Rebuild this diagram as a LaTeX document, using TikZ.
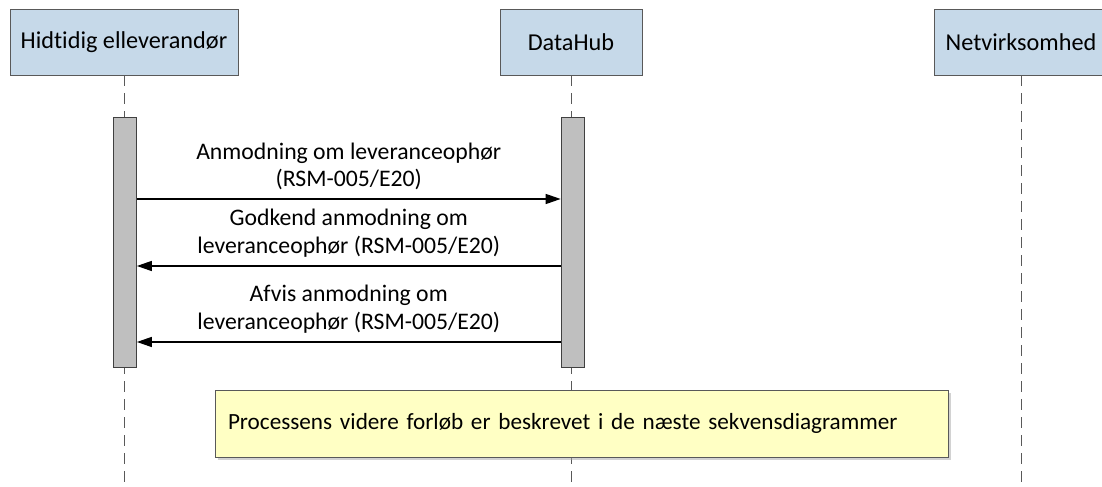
\documentclass[tikz,border=0pt]{standalone}
\usepackage{fontspec}
\setmainfont{Carlito}[Ligatures=NoCommon]
\usepackage{xcolor}
\usetikzlibrary{arrows.meta,shadows}

\definecolor{actorblue}{HTML}{C6D9E9}
\definecolor{linegray}{HTML}{595959}
\definecolor{bargray}{HTML}{BFBFBF}
\definecolor{noteyellow}{HTML}{FFFFC4}

\begin{document}
\begin{tikzpicture}
 	\tikzstyle{every node}+=[font=\fontsize{13.5}{15.6}\selectfont]
 	\tikzstyle{actor}=[draw=linegray, fill=actorblue, minimum height=1.32cm, inner sep=0pt, font=\fontsize{13.8}{16}\selectfont]
 	\tikzstyle{life}=[linegray, dash pattern=on 0.22cm off 0.14cm]
 	\tikzstyle{bar}=[draw=black!75, fill=bargray, minimum width=0.46cm, minimum height=5cm, inner sep=0pt]
 	\tikzstyle{msg}=[black, thick, -{Triangle[length=0.3cm, width=0.2cm]}]
 	\useasboundingbox (0,0) rectangle (22.04,-9.74);
 	% actors
 	\node [actor, minimum width=4.56cm] (hid) at (2.48,-0.84) {Hidtidig elleverandør};
 	\node [actor, minimum width=2.84cm] (hub) at (11.42,-0.84) {DataHub};
 	\node [actor, minimum width=3.48cm] (net) at (20.42,-0.84) {Netvirksomhed};
 	% lifelines
 	\coordinate (hidend) at (2.48,-9.74);
 	\coordinate (hubend) at (11.42,-9.74);
 	\coordinate (netend) at (20.42,-9.74);
 	\draw [life] (hid.south) -- (hidend);
 	\draw [life] (hub.south) -- (hubend);
 	\draw [life] (net.south) -- (netend);
 	% activations
 	\node [bar] (hidbar) at (2.5,-4.84) {};
 	\node [bar] (hubbar) at (11.45,-4.84) {};
 	% messages
 	\draw [msg] (hidbar.east |- 0,-3.98) -- (hubbar.west |- 0,-3.98)
 		node [midway, above=0.05cm, align=center] {Anmodning om leveranceophør\\(RSM-005/E20)};
 	\draw [msg] (hubbar.west |- 0,-5.32) -- (hidbar.east |- 0,-5.32)
 		node [midway, above=0.05cm, align=center] {Godkend anmodning om\\leveranceophør (RSM-005/E20)};
 	\draw [msg] (hubbar.west |- 0,-6.84) -- (hidbar.east |- 0,-6.84)
 		node [midway, above=0.05cm, align=center] {Afvis anmodning om\\leveranceophør (RSM-005/E20)};
 	% note
 	\node [draw=linegray, fill=noteyellow, drop shadow={shadow xshift=0.06cm, shadow yshift=-0.06cm, fill=black!35},
 		minimum width=14.66cm, minimum height=1.34cm, inner xsep=0.26cm, text width=14.14cm, align=left,
 		font=\fontsize{13.2}{16}\selectfont] (note) at (11.63,-8.47)
 		{Processens videre forløb er beskrevet i de næste sekvensdiagrammer};
\end{tikzpicture}
\end{document}
